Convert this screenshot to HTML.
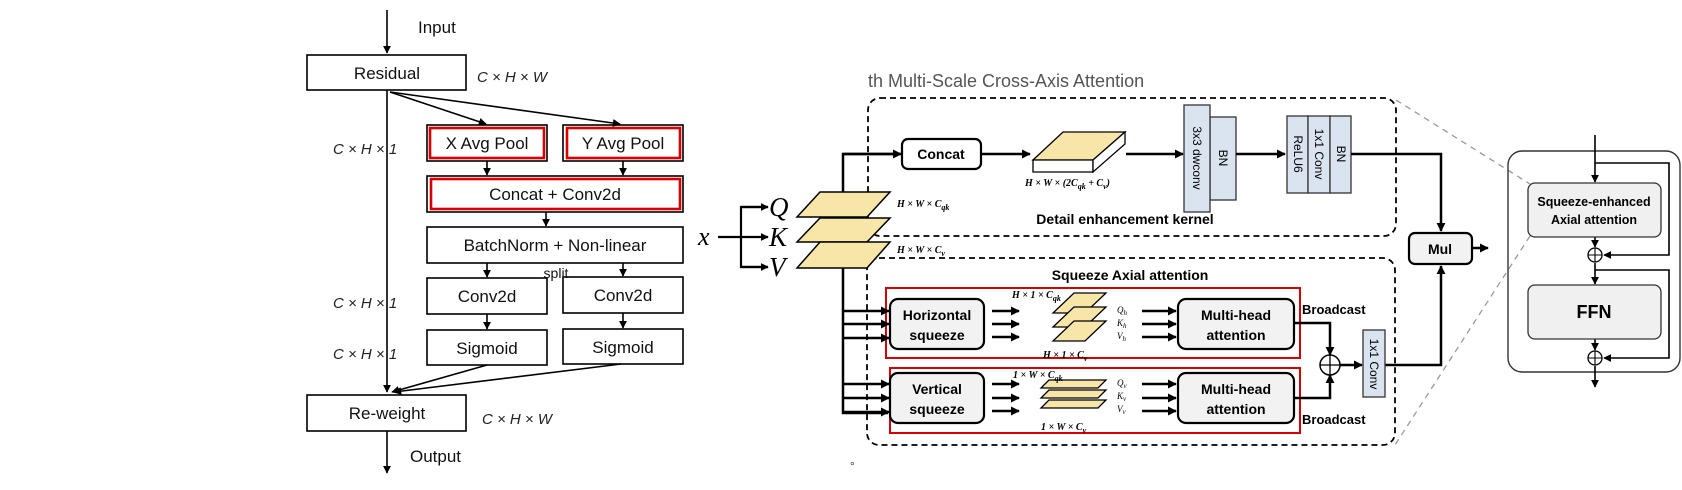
<!DOCTYPE html>
<html><head><meta charset="utf-8"><style>
html,body{margin:0;padding:0;background:#fff;}
svg{display:block;}
.s{font-family:"Liberation Sans",sans-serif;}
.b{font-family:"Liberation Sans",sans-serif;font-weight:bold;}
.m{font-family:"Liberation Serif",serif;font-style:italic;font-weight:bold;}
</style></head><body>
<svg width="1682" height="490" viewBox="0 0 1682 490" xmlns="http://www.w3.org/2000/svg">
<defs>
<marker id="a" viewBox="0 0 10 10" refX="9" refY="5" markerWidth="5" markerHeight="5" orient="auto-start-reverse"><path d="M0,0L10,5L0,10z" fill="#000"/></marker>
<marker id="a2" viewBox="0 0 10 10" refX="9" refY="5" markerWidth="3.6" markerHeight="3.6" orient="auto"><path d="M0,0L10,5L0,10z" fill="#000"/></marker>
</defs>
<!-- LEFT DIAGRAM -->
<g stroke="#000" stroke-width="1.6" fill="none">
<line x1="387" y1="10" x2="387" y2="53" marker-end="url(#a)"/>
<rect x="307" y="55" width="159" height="35" fill="#fff"/>
<line x1="387" y1="90" x2="387" y2="392" marker-end="url(#a)"/>
<line x1="390" y1="92" x2="486" y2="124" marker-end="url(#a)"/>
<line x1="390" y1="92" x2="620" y2="124" marker-end="url(#a)"/>
<rect x="427" y="125" width="120" height="36"/>
<rect x="563" y="125" width="120" height="36"/>
<rect x="427" y="176" width="256" height="36"/>
<rect x="427" y="227" width="256" height="36"/>
<rect x="427" y="278" width="120" height="36"/>
<rect x="563" y="277" width="120" height="36"/>
<rect x="427" y="330" width="120" height="35"/>
<rect x="563" y="329" width="120" height="35"/>
<line x1="487" y1="161" x2="487" y2="175" marker-end="url(#a)"/>
<line x1="623" y1="161" x2="623" y2="175" marker-end="url(#a)"/>
<line x1="546" y1="212" x2="546" y2="226" marker-end="url(#a)"/>
<line x1="487" y1="263" x2="487" y2="277" marker-end="url(#a)"/>
<line x1="623" y1="263" x2="623" y2="276" marker-end="url(#a)"/>
<line x1="487" y1="314" x2="487" y2="329" marker-end="url(#a)"/>
<line x1="623" y1="313" x2="623" y2="328" marker-end="url(#a)"/>
<line x1="487" y1="365" x2="392" y2="392" marker-end="url(#a)"/>
<line x1="621" y1="364" x2="394" y2="392" marker-end="url(#a)"/>
<rect x="307" y="395" width="159" height="36" fill="#fff"/>
<line x1="387" y1="431" x2="387" y2="473" marker-end="url(#a)"/>
</g>
<g stroke="#d00" stroke-width="2.6" fill="none">
<rect x="430" y="128" width="114" height="30"/>
<rect x="567" y="128" width="113" height="30"/>
<rect x="431" y="179" width="249" height="30"/>
</g>
<g class="s" font-size="17" fill="#111" text-anchor="middle">
<text x="418" y="33" text-anchor="start">Input</text>
<text x="387" y="79">Residual</text>
<text x="487" y="149">X Avg Pool</text>
<text x="623" y="149">Y Avg Pool</text>
<text x="555" y="200">Concat + Conv2d</text>
<text x="555" y="251">BatchNorm + Non-linear</text>
<text x="556" y="278" font-size="14">split</text>
<text x="487" y="302">Conv2d</text>
<text x="623" y="301">Conv2d</text>
<text x="487" y="354">Sigmoid</text>
<text x="623" y="353">Sigmoid</text>
<text x="387" y="419">Re-weight</text>
<text x="410" y="462" text-anchor="start">Output</text>
</g>
<g class="s" font-size="15" font-style="italic" fill="#222">
<text x="477" y="82">C × H × W</text>
<text x="333" y="154">C × H × 1</text>
<text x="333" y="308">C × H × 1</text>
<text x="333" y="359">C × H × 1</text>
<text x="482" y="424">C × H × W</text>
</g>
<!-- MIDDLE -->
<text x="868" y="87" class="s" font-size="18" fill="#555">th Multi-Scale Cross-Axis Attention</text>
<g stroke="#000" stroke-width="1.8" stroke-dasharray="6,4" fill="none">
<rect x="868" y="98" width="528" height="138" rx="12"/>
<rect x="867" y="258" width="528" height="187" rx="12"/>
</g>
<g stroke="#999" stroke-width="1.3" stroke-dasharray="6,5" fill="none">
<line x1="1396" y1="100" x2="1530" y2="184"/>
<line x1="1530" y1="236" x2="1395" y2="445"/>
</g>
<!-- x QKV -->
<text x="698" y="245" class="m" font-size="26" style="font-weight:normal">x</text>
<g stroke="#000" stroke-width="2.2" fill="none">
<line x1="718" y1="237" x2="768" y2="237" marker-end="url(#a2)"/>
<polyline points="768,207 741,207 741,267 768,267"/>
</g>
<line x1="741" y1="207" x2="768" y2="207" stroke="#000" stroke-width="2.2" marker-end="url(#a2)"/>
<line x1="741" y1="267" x2="768" y2="267" stroke="#000" stroke-width="2.2" marker-end="url(#a2)"/>
<g class="m" font-size="27" style="font-weight:normal" fill="#000">
<text x="769" y="216">Q</text><text x="769" y="246">K</text><text x="769" y="276">V</text>
</g>
<g stroke="#000" stroke-width="2.5" fill="none">
<polyline points="843,192 843,154 900,154" />
<polyline points="843,268 843,413 888,413"/>
</g>
<line x1="843" y1="154" x2="901" y2="154" stroke="#000" stroke-width="2.5" marker-end="url(#a2)"/>
<g fill="#f8e6a8" stroke="#000" stroke-width="1.5">
<polygon points="797,217 867,217 890,192 820,192"/>
<polygon points="797,242 867,242 890,218 820,218"/>
<polygon points="797,268 867,268 890,242 820,242"/>
</g>
<g class="m" font-size="10" fill="#000">
<text x="897" y="207">H × W × C<tspan font-size="8" dy="3">qk</tspan></text>
<text x="897" y="253">H × W × C<tspan font-size="8" dy="3">v</tspan></text>
<text x="1025" y="186">H × W × (2C<tspan font-size="8" dy="3">qk</tspan><tspan dy="-3"> + C</tspan><tspan font-size="8" dy="3">v</tspan><tspan dy="-3">)</tspan></text>
</g>
<!-- top branch -->
<rect x="902" y="139" width="79" height="30" rx="6" fill="#fff" stroke="#000" stroke-width="2.2"/>
<text x="941" y="159" class="b" font-size="14" text-anchor="middle">Concat</text>
<line x1="981" y1="154" x2="1030" y2="154" stroke="#000" stroke-width="2.5" marker-end="url(#a2)"/>
<polygon points="1033,160 1093,160 1125,132 1063,132" fill="#f8e6a8" stroke="#000" stroke-width="1.3"/>
<polygon points="1033,160 1093,160 1093,172 1033,172" fill="#fff" stroke="#000" stroke-width="1.3"/>
<polygon points="1093,160 1125,132 1125,144 1093,172" fill="#fff" stroke="#000" stroke-width="1.3"/>
<line x1="1126" y1="154" x2="1183" y2="154" stroke="#000" stroke-width="2.5" marker-end="url(#a2)"/>
<g fill="#dae3f0" stroke="#333" stroke-width="1.3">
<rect x="1210" y="117" width="26" height="83"/>
<rect x="1184" y="105" width="26" height="107"/>
<rect x="1287" y="116" width="21" height="77"/>
<rect x="1308" y="116" width="22" height="77"/>
<rect x="1330" y="116" width="21" height="77"/>
</g>
<g class="s" font-size="12" fill="#000" text-anchor="middle">
<text transform="translate(1193,158) rotate(90)">3x3 dwconv</text>
<text transform="translate(1219,158) rotate(90)">BN</text>
<text transform="translate(1294,154) rotate(90)">ReLU6</text>
<text transform="translate(1315,154) rotate(90)">1x1 Conv</text>
<text transform="translate(1337,154) rotate(90)">BN</text>
</g>
<line x1="1236" y1="154" x2="1285" y2="154" stroke="#000" stroke-width="2.5" marker-end="url(#a2)"/>
<polyline points="1351,154 1441,154 1441,231" fill="none" stroke="#000" stroke-width="2.5" marker-end="url(#a2)"/>
<text x="1125" y="224" class="b" font-size="14" text-anchor="middle">Detail enhancement kernel</text>
<!-- bottom branch -->
<text x="1130" y="280" class="b" font-size="14" text-anchor="middle">Squeeze Axial attention</text>
<g fill="none" stroke="#d00" stroke-width="2">
<rect x="886" y="288" width="414" height="70"/>
<rect x="890" y="368" width="410" height="65"/>
</g>
<g fill="#f2f2f2" stroke="#000" stroke-width="2.2">
<rect x="890" y="299" width="94" height="50" rx="8"/>
<rect x="890" y="373" width="94" height="50" rx="8"/>
<rect x="1178" y="299" width="116" height="50" rx="8"/>
<rect x="1178" y="373" width="116" height="50" rx="8"/>
</g>
<g class="b" font-size="14" text-anchor="middle">
<text x="937" y="320">Horizontal</text><text x="937" y="340">squeeze</text>
<text x="937" y="394">Vertical</text><text x="937" y="414">squeeze</text>
<text x="1236" y="320">Multi-head</text><text x="1236" y="340">attention</text>
<text x="1236" y="394">Multi-head</text><text x="1236" y="414">attention</text>
<text x="1302" y="314" text-anchor="start" font-size="13">Broadcast</text>
<text x="1302" y="424" text-anchor="start" font-size="13">Broadcast</text>
</g>
<g stroke="#000" stroke-width="2.5" marker-end="url(#a2)">
<line x1="843" y1="311" x2="889" y2="311"/><line x1="843" y1="324" x2="889" y2="324"/><line x1="843" y1="338" x2="889" y2="338"/>
<line x1="843" y1="384" x2="889" y2="384"/><line x1="843" y1="398" x2="889" y2="398"/><line x1="843" y1="412" x2="889" y2="412"/>
<line x1="992" y1="311" x2="1019" y2="311"/><line x1="992" y1="324" x2="1019" y2="324"/><line x1="992" y1="337" x2="1019" y2="337"/>
<line x1="992" y1="384" x2="1019" y2="384"/><line x1="992" y1="398" x2="1019" y2="398"/><line x1="992" y1="411" x2="1019" y2="411"/>
<line x1="1142" y1="311" x2="1176" y2="311"/><line x1="1142" y1="324" x2="1176" y2="324"/><line x1="1142" y1="337" x2="1176" y2="337"/>
<line x1="1142" y1="384" x2="1176" y2="384"/><line x1="1142" y1="398" x2="1176" y2="398"/><line x1="1142" y1="411" x2="1176" y2="411"/>
</g>
<g fill="#f8e6a8" stroke="#000" stroke-width="1.3">
<polygon points="1053,313 1085,313 1106,293 1074,293"/>
<polygon points="1053,327 1085,327 1106,307 1074,307"/>
<polygon points="1053,341 1085,341 1106,321 1074,321"/>
<polygon points="1041,388 1098,388 1106,380 1049,380"/>
<polygon points="1041,398 1098,398 1106,390 1049,390"/>
<polygon points="1041,408 1098,408 1106,400 1049,400"/>
</g>
<g class="m" font-size="10">
<text x="1012" y="298">H × 1 × C<tspan font-size="8" dy="3">qk</tspan></text>
<text x="1043" y="358">H × 1 × C<tspan font-size="8" dy="3">v</tspan></text>
<text x="1013" y="378">1 × W × C<tspan font-size="8" dy="3">qk</tspan></text>
<text x="1041" y="430">1 × W × C<tspan font-size="8" dy="3">v</tspan></text>
</g>
<g class="m" font-size="9" style="font-weight:normal">
<text x="1117" y="313">Q<tspan font-size="7" dy="2">h</tspan></text>
<text x="1117" y="326">K<tspan font-size="7" dy="2">h</tspan></text>
<text x="1117" y="339">V<tspan font-size="7" dy="2">h</tspan></text>
<text x="1117" y="386">Q<tspan font-size="7" dy="2">v</tspan></text>
<text x="1117" y="399">K<tspan font-size="7" dy="2">v</tspan></text>
<text x="1117" y="412">V<tspan font-size="7" dy="2">v</tspan></text>
</g>
<g fill="none" stroke="#000" stroke-width="2.5">
<polyline points="1294,323 1330,323 1330,355" marker-end="url(#a2)"/>
<polyline points="1294,398 1330,398 1330,375" marker-end="url(#a2)"/>
<line x1="1340" y1="365" x2="1362" y2="365" marker-end="url(#a2)"/>
<polyline points="1385,365 1441,365 1441,266" marker-end="url(#a2)"/>
</g>
<circle cx="1330" cy="365" r="10" fill="#fff" stroke="#000" stroke-width="1.5"/>
<path d="M1320,365H1340M1330,355V375" stroke="#000" stroke-width="1.3"/>
<rect x="1363" y="330" width="22" height="67" fill="#dae3f0" stroke="#333" stroke-width="1.3"/>
<text transform="translate(1370,364) rotate(90)" class="s" font-size="12" text-anchor="middle">1x1 Conv</text>
<!-- Mul -->
<rect x="1409" y="233" width="63" height="31" rx="6" fill="#f2f2f2" stroke="#000" stroke-width="2.2"/>
<text x="1440" y="254" class="b" font-size="14" text-anchor="middle">Mul</text>
<line x1="1472" y1="248" x2="1488" y2="248" stroke="#000" stroke-width="2.5" marker-end="url(#a2)"/>
<text x="850" y="470" class="s" font-size="12" fill="#333">°</text>
<!-- RIGHT MODULE -->
<rect x="1508" y="151" width="172" height="221" rx="14" fill="none" stroke="#333" stroke-width="1.4"/>
<g fill="none" stroke="#000" stroke-width="1.6">
<line x1="1595" y1="135" x2="1595" y2="182" marker-end="url(#a)"/>
<polyline points="1595,163 1669,163 1669,255 1604,255" marker-end="url(#a)"/>
<line x1="1595" y1="237" x2="1595" y2="247" marker-end="url(#a)"/>
<line x1="1595" y1="263" x2="1595" y2="284" marker-end="url(#a)"/>
<polyline points="1595,270 1669,270 1669,358 1604,358" marker-end="url(#a)"/>
<line x1="1595" y1="339" x2="1595" y2="350" marker-end="url(#a)"/>
<line x1="1595" y1="366" x2="1595" y2="387" marker-end="url(#a)"/>
</g>
<g fill="#fff" stroke="#000" stroke-width="1.3">
<circle cx="1595" cy="255" r="7"/><circle cx="1595" cy="358" r="7"/>
</g>
<path d="M1588,255H1602M1595,248V262M1588,358H1602M1595,351V365" stroke="#000" stroke-width="1.1"/>
<rect x="1528" y="183" width="133" height="54" rx="7" fill="#f0f0f0" stroke="#333" stroke-width="1.3"/>
<rect x="1528" y="285" width="133" height="54" rx="7" fill="#f0f0f0" stroke="#333" stroke-width="1.3"/>
<text x="1594" y="206" class="b" font-size="12.5" text-anchor="middle">Squeeze-enhanced</text>
<text x="1594" y="224" class="b" font-size="12.5" text-anchor="middle">Axial attention</text>
<text x="1594" y="318" class="b" font-size="18" text-anchor="middle">FFN</text>
</svg>
</body></html>
